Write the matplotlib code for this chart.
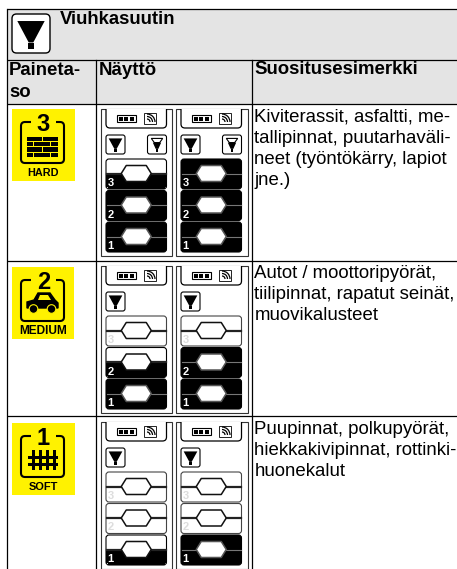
import matplotlib

matplotlib.use("Agg")
import matplotlib.pyplot as plt
from matplotlib.patches import Arc, Circle, FancyBboxPatch, Polygon, Rectangle

plt.rcParams["font.family"] = ["Liberation Sans", "DejaVu Sans"]

title = "Viuhkasuutin"
col_heads = ["Paineta-", "so", "Näyttö", "Suositusesimerkki"]
levels = ["HARD", "MEDIUM", "SOFT"]
level_sizes = [7.8, 8.6, 7.9]
level_nums = [3, 2, 1]
# fill state of segments 3, 2, 1 for the two display panels (0 empty, 1 half, 2 full)
left_panel = [[1, 2, 2], [0, 1, 2], [0, 0, 1]]
right_panel = [[2, 2, 2], [0, 2, 2], [0, 0, 2]]
show_fan = [True, False, False]
examples = [
    ["Kiviterassit, asfaltti, me-", "tallipinnat, puutarhaväli-", "neet (työntökärry, lapiot", "jne.)"],
    ["Autot / moottoripyörät,", "tiilipinnat, rapatut seinät,", "muovikalusteet"],
    ["Puupinnat, polkupyörät,", "hiekkakivipinnat, rottinki-", "huonekalut"],
]

first_baselines = [121.5, 278, 434]
icon_tops = [109, 267, 423]
panel_tops = [109, 266, 422]
YELLOW = "#fff200"

fig = plt.figure(figsize=(4.57, 5.69), dpi=100)
ax = fig.add_axes([0, 0, 1, 1])
ax.set_xlim(0, 457)
ax.set_ylim(569, 0)
ax.axis("off")


def rbox(x0, y0, x1, y1, r=3, fc="white", ec="black", lw=1.0, z=3):
    p = FancyBboxPatch((x0 + r, y0 + r), x1 - x0 - 2 * r, y1 - y0 - 2 * r,
                       boxstyle=f"round,pad={r},rounding_size={r}",
                       fc=fc, ec=ec, lw=lw, zorder=z)
    ax.add_patch(p)
    return p


def nozzle(x0, y0, w, h, lw=0.8, fan=False):
    rbox(x0, y0, x0 + w, y0 + h, r=max(2, w * 0.12), lw=lw)
    cx = x0 + w / 2
    top = y0 + h * 0.18
    if fan:
        ax.add_patch(Polygon([(cx - w * 0.3, top), (cx + w * 0.3, top), (cx + w * 0.14, top + h * 0.22),
                              (cx - w * 0.14, top + h * 0.22)], fc="white", ec="black", lw=0.8, zorder=4))
        top += h * 0.22
        ax.add_patch(Polygon([(cx - w * 0.22, top), (cx + w * 0.22, top), (cx + w * 0.07, top + h * 0.33),
                              (cx - w * 0.07, top + h * 0.33)], fc="black", ec="none", zorder=4))
    else:
        ax.add_patch(Polygon([(cx - w * 0.36, top), (cx + w * 0.36, top), (cx + w * 0.06, top + h * 0.55),
                              (cx - w * 0.06, top + h * 0.55)], fc="black", ec="none", zorder=4))
    ax.add_patch(Rectangle((cx - w * 0.07, y0 + h * 0.75), w * 0.14, h * 0.15, fc="black", ec="none", zorder=4))


def segment(x0, y0, num, state):
    x1, y1 = x0 + 60.5, y0 + 30
    cy = (y0 + y1) / 2 - 0.5
    cx = (x0 + x1) / 2
    rbox(x0, y0, x1, y1, r=3, fc="black" if state == 2 else "white", ec="black" if state else "#444444", lw=0.8)
    if state == 1:
        ax.add_patch(Rectangle((x0 + 0.4, cy), 59.7, y1 - cy - 2, fc="black", ec="none", zorder=3))
        ax.add_patch(Rectangle((x0 + 2, y1 - 3), 56.5, 2.6, fc="black", ec="none", zorder=3))
    line_c = "#777777" if state == 2 else "#222222"
    ax.plot([x0 + 0.5, x1 - 0.5], [cy, cy], color=line_c, lw=0.8 if state == 2 else 1.6, zorder=4)
    hx, hy = 15, 8
    ax.add_patch(Polygon([(cx - hx, cy), (cx - hx + 5, cy - hy), (cx + hx - 5, cy - hy), (cx + hx, cy),
                          (cx + hx - 5, cy + hy), (cx - hx + 5, cy + hy)],
                         fc="white", ec="#555555" if state == 2 else "#111111", lw=1.1, joinstyle="round", zorder=5))
    col = "white" if state else "#dddddd"
    ax.text(x0 + 1.5, y1 - 1, str(num), color=col, fontsize=8, fontweight="bold", ha="left", va="bottom", zorder=6)


def panel(x0, y0, w, states, fan):
    y_end = min(y0 + 147, 575)
    ax.add_patch(Rectangle((x0, y0), w, y_end - y0, fc="white", ec="#333333", lw=0.8, zorder=2))
    sx = x0 + 5.5
    frame = Rectangle((x0, y0), w, 30, transform=ax.transData)
    notch = rbox(sx, y0 - 6, sx + 60.5, y0 + 19, r=4, lw=0.9)
    notch.set_clip_path(frame)
    # battery + signal
    ax.add_patch(Rectangle((sx + 11, y0 + 6), 18.5, 7, fc="white", ec="black", lw=0.8, zorder=4))
    for k in range(3):
        ax.add_patch(Rectangle((sx + 12.7 + k * 5.4, y0 + 7.5), 4, 4, fc="black", ec="none", zorder=5))
    ax.add_patch(Rectangle((sx + 29.5, y0 + 8), 1.5, 3, fc="black", ec="none", zorder=5))
    ax.add_patch(Rectangle((sx + 38, y0 + 4), 12, 11, fc="white", ec="#222222", lw=0.7, zorder=4))
    for d in [3, 5.5, 8]:
        ax.add_patch(Arc((sx + 41, y0 + 13), d * 2, d * 2, theta1=-90, theta2=0, ec="black", lw=0.9, zorder=5))
    nozzle(sx, y0 + 26, 19, 19)
    if fan:
        nozzle(sx + 41.5, y0 + 26, 19, 19, fan=True)
    for k, (num, st) in enumerate(zip(level_nums, states)):
        segment(sx, y0 + 50 + k * 31.5, num, st)


def level_icon(y0, i):
    w = 63 if i != 1 else 62
    ax.add_patch(Rectangle((12, y0), w, 72, fc=YELLOW, ec="none", zorder=2))
    ax.add_patch(FancyBboxPatch((21, y0 + 13), 43, 41, boxstyle="round,pad=0,rounding_size=4",
                                fc="none", ec="black", lw=1.5, zorder=3))
    ax.add_patch(Rectangle((31, y0 + 8), 25, 11, fc=YELLOW, ec="none", zorder=3))
    ax.text(43.3, y0 + 15, str(level_nums[i]), fontsize=17, fontweight="bold", ha="center", va="center", zorder=4)
    ax.text(43, y0 + 63.5, levels[i], fontsize=level_sizes[i], fontweight="bold", ha="center", va="center", zorder=4)
    if i == 0:
        for r in range(4):
            y = y0 + 28 + r * 5.2
            spans = [(27, 42), (43, 58)] if r % 2 == 0 else [(27, 33), (34, 50), (51, 58)]
            for a, b in spans:
                ax.add_patch(Rectangle((a, y), b - a, 4.2, fc="black", ec="none", zorder=4))
    elif i == 1:
        ax.add_patch(Polygon([(27, y0 + 41), (27, y0 + 35), (34, y0 + 33), (38, y0 + 26), (50, y0 + 26),
                              (55, y0 + 33), (58, y0 + 36), (58, y0 + 41)], fc="black", ec="black", zorder=4))
        ax.add_patch(Polygon([(38, y0 + 33), (40, y0 + 28), (48, y0 + 28), (51, y0 + 33)],
                             fc=YELLOW, ec="none", zorder=5))
        for x in [33.5, 51.5]:
            ax.add_patch(Circle((x, y0 + 42), 4.3, fc="black", ec=YELLOW, lw=0.8, zorder=5))
    else:
        for x in [31.5, 38.5, 45.5, 52.5]:
            ax.add_patch(Rectangle((x, y0 + 27), 3, 20, fc="black", ec="none", zorder=4))
        for y in [33, 40]:
            ax.add_patch(Rectangle((28, y0 + y), 30, 3, fc="black", ec="none", zorder=4))


# table frame and header shading
ax.add_patch(Rectangle((6.5, 8.5), 451, 95, fc="#e4e4e4", ec="none", zorder=1))
for y in [8.5, 59.5, 103.5, 261, 416]:
    ax.plot([6.5, 457], [y, y], color="black", lw=0.9, zorder=6, solid_capstyle="butt")
ax.plot([6.5, 6.5], [8.5, 569], color="black", lw=0.9, zorder=6)
for x in [95.5, 251.5]:
    ax.plot([x, x], [59.5, 569], color="black", lw=0.9, zorder=6)

nozzle(12, 14, 38, 39, lw=1.0)
ax.text(60, 24, title, fontsize=13.4, fontweight="bold", ha="left", va="baseline")
ax.text(9, 75, col_heads[0], fontsize=13.4, fontweight="bold", ha="left", va="baseline")
ax.text(9, 97, col_heads[1], fontsize=13.4, fontweight="bold", ha="left", va="baseline")
ax.text(98.5, 75, col_heads[2], fontsize=13.4, fontweight="bold", ha="left", va="baseline")
ax.text(254, 74, col_heads[3], fontsize=13.4, fontweight="bold", ha="left", va="baseline")

for i in range(3):
    level_icon(icon_tops[i], i)
    panel(100.5, panel_tops[i], 71, left_panel[i], show_fan[i])
    panel(175.5, panel_tops[i], 72, right_panel[i], show_fan[i])
    for k, line in enumerate(examples[i]):
        ax.text(254.5, first_baselines[i] + k * 21, line, fontsize=13.4, ha="left", va="baseline", zorder=7)

fig.savefig("out.png", dpi=100)
